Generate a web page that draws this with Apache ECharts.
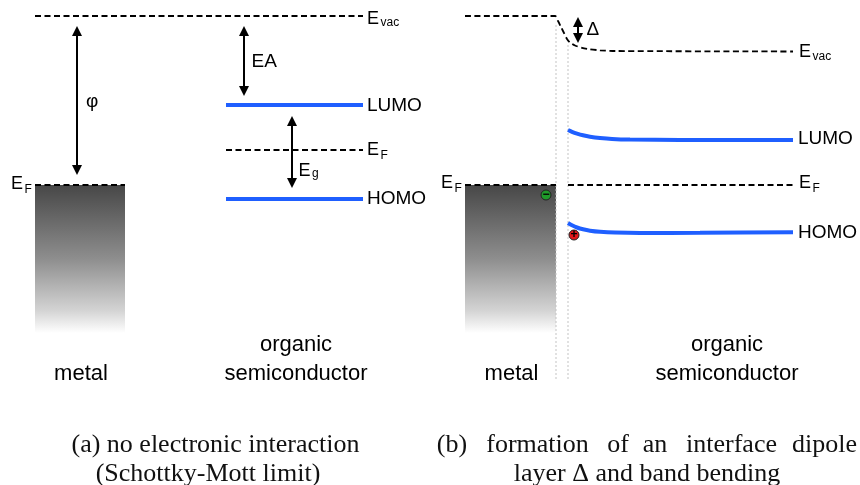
<!DOCTYPE html>
<html><head><meta charset="utf-8">
<script src="https://cdn.jsdelivr.net/npm/echarts@6/dist/echarts.min.js"></script>
<style>html,body{margin:0;padding:0;background:#fff}#c{width:860px;height:485px}</style>
</head><body><div id="c"></div>
<script>
// ---- diagram data: [position, energy level] (energy axis points downward) ----
// (a) no interaction
const evacA    = [[35,16],[363,16]];
const efMetalA = [[35,185],[125,185]];
const lumoA    = [[226,105],[363,105]];
const efOrgA   = [[226,150],[363,150]];
const homoA    = [[226,199],[363,199]];
// (b) interface dipole + band bending
const evacB    = [[465,16],[555,16],[558,21],[561,27],[564,33],[567,39],[570,42.5],[575,45.5],[582,47.8],[590,49.3],[600,50.3],[615,51],[793,51.5]];
const efMetalB = [[465,185],[556,185]];
const efOrgB   = [[568,185],[793,185]];
const lumoB    = [[568,130],[572,131.8],[577,133.6],[583,135.3],[590,136.7],[600,138],[612,139],[630,139.6],[680,140],[793,140]];
const homoB    = [[568,223],[572,225.3],[577,227.5],[583,229.3],[590,230.7],[600,231.8],[615,232.6],[640,233],[700,232.8],[793,232.2]];
// metal blocks [x0, top(E_F), x1, bottom]
const metalBlocks = [[35,185,125,333],[465,185,556,333]];
// interface boundary lines
const interfaceL = [[556,25],[556,380]];
const interfaceR = [[568,45],[568,380]];
// energy gaps (double arrows): phi, EA, Eg, Delta  [from, to]
const gaps = [[[77,26],[77,175]], [[244,26],[244,96]], [[292,116],[292,188]], [[578,17],[578,43]]];
// interface charges [x, y, sign]
const charges = [[546,195,'−'],[574,235,'+']];
// text labels [text, x, y, size, align]
const labelsA = [
  ['E',367,19,18,'left'],['vac',380.5,23,12,'left'],
  ['φ',86,102,19,'left'],['EA',251.5,61.5,19,'left'],
  ['LUMO',367,105.5,19,'left'],
  ['E',367,150,18,'left'],['F',380.5,155.5,12,'left'],
  ['E',298.5,171,18,'left'],['g',312,174,12,'left'],
  ['HOMO',367,199,19,'left'],
  ['E',11,184.5,18,'left'],['F',24.5,189.5,12,'left'],
  ['metal',81,373.5,22,'center'],['organic',296,344.5,22,'center'],['semiconductor',296,373.5,22,'center']
];
const labelsB = [
  ['E',799,52.5,18,'left'],['vac',812.5,57,12,'left'],
  ['Δ',586.5,29.5,19,'left'],
  ['LUMO',798,139,19,'left'],
  ['E',799,183.5,18,'left'],['F',812.5,189,12,'left'],
  ['E',441,183.5,18,'left'],['F',454.5,189,12,'left'],
  ['HOMO',798,232.5,19,'left'],
  ['metal',511.5,373.5,22,'center'],['organic',727,344.5,22,'center'],['semiconductor',727,373.5,22,'center']
];
// captions [text, centerX, y]
const captions = [
  ['(a) no electronic interaction',215.5,445],
  ['(Schottky-Mott limit)',208,474],
  ['(b)',452,445],['formation',537.5,445],['of',618,445],['an',655,445],['interface',731.5,445],['dipole',824.5,445],
  ['layer Δ and band bending',647,474]
];

const SANS = '"Liberation Sans", Arial, sans-serif';
const SERIF = '"Liberation Serif", "Times New Roman", serif';
const BLUE = '#1f5fff';

function dashed(data, smooth) {
  return {type:'line', data, symbol:'none', smooth: smooth ? 0.25 : false, silent:true, z:4,
    lineStyle:{color:'#000', width:1.8, type:[6,3.5]}};
}
function band(data, smooth) {
  return {type:'line', data, symbol:'none', smooth: smooth ? 0.25 : false, silent:true, z:4,
    lineStyle:{color:BLUE, width:4, cap:'butt'}};
}
function thin(data) {
  return {type:'line', data, symbol:'none', silent:true, z:2,
    lineStyle:{color:'#c4c4c4', width:1, type:[2,2]}};
}
const HEAD = 10;
function shorten(g) {
  const [a,b] = g; const dx=b[0]-a[0], dy=b[1]-a[1], L=Math.hypot(dx,dy);
  const ux=dx/L*HEAD/2, uy=dy/L*HEAD/2;
  return [[a[0]+ux,a[1]+uy],[b[0]-ux,b[1]-uy]];
}
function labelItems(arr) {
  return arr.map(l => ({value:[l[1],l[2]], label:{show:true, position:'inside', formatter:l[0],
    fontSize:l[3], align:l[4], verticalAlign:'middle', color:'#000', opacity:1, fontFamily:SANS}}));
}

const chart = echarts.init(document.getElementById('c'), null, {renderer:'canvas'});
chart.setOption({
  animation:false,
  backgroundColor:'#fff',
  grid:{left:0,right:0,top:0,bottom:0},
  xAxis:{type:'value', min:0, max:860, show:false},
  yAxis:{type:'value', min:0, max:485, inverse:true, show:false},
  series:[
    {type:'custom', data:metalBlocks, z:1, silent:true, encode:{x:[0,2], y:[1,3]},
     renderItem:(params, api) => {
       const p0 = api.coord([api.value(0), api.value(1)]);
       const p1 = api.coord([api.value(2), api.value(3)]);
       return {type:'rect', shape:{x:p0[0], y:p0[1], width:p1[0]-p0[0], height:p1[1]-p0[1]},
         style:{fill:new echarts.graphic.LinearGradient(0,0,0,1,[
           {offset:0,color:'#474747'},{offset:0.5,color:'#8e8e8e'},{offset:0.85,color:'#d4d4d4'},{offset:1,color:'#ffffff'}])}};
     }},
    thin(interfaceL), thin(interfaceR),
    dashed(evacA), dashed(efMetalA), dashed(efOrgA),
    band(lumoA), band(homoA),
    dashed(evacB, true), dashed(efMetalB), dashed(efOrgB),
    band(lumoB, true), band(homoB, true),
    {type:'lines', coordinateSystem:'cartesian2d', silent:true, z:5,
     data: gaps.map(g => ({coords: shorten(g)})),
     symbol:['triangle','triangle'], symbolSize:HEAD,
     lineStyle:{color:'#000', width:2, opacity:1}},
    {type:'scatter', silent:true, z:6, symbol:'circle', symbolSize:10,
     data: charges.map(c => ({value:[c[0],c[1]],
       itemStyle:{color: c[2]==='+' ? '#e3171b' : '#1f9a2a', borderColor:'#222', borderWidth:1, opacity:1},
       label:{show:true, position:'inside', formatter:c[2], color:'#000', opacity:1, fontSize:12, fontWeight:'bold', fontFamily:SANS}}))},
    {type:'scatter', silent:true, z:7, symbolSize:1, itemStyle:{color:'rgba(0,0,0,0)', opacity:1},
     data: labelItems(labelsA.concat(labelsB))}
  ],
  graphic: captions.map(c => ({type:'text', x:c[1], y:c[2], silent:true,
    style:{text:c[0], fontSize:26, fontFamily:SERIF, fill:'#111', align:'center', verticalAlign:'middle'}}))
});
</script></body></html>
